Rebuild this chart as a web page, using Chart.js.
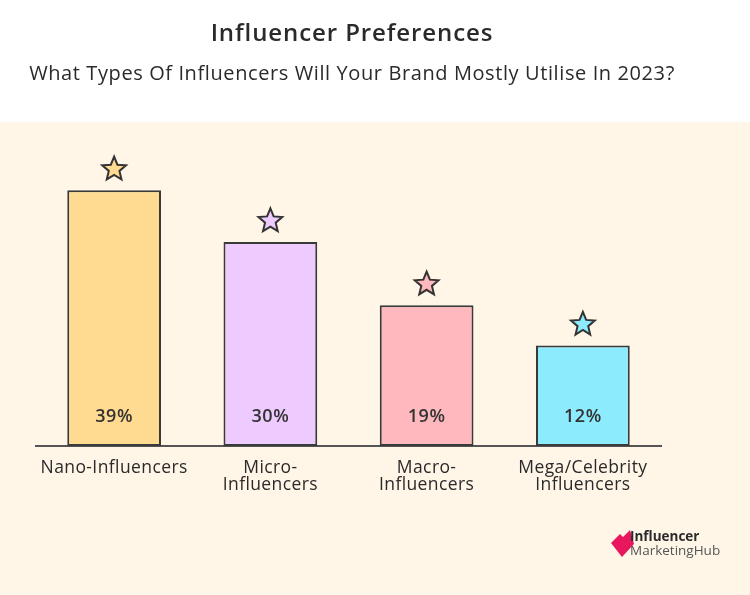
<!DOCTYPE html>
<html><head><meta charset="utf-8">
<script src="https://cdn.jsdelivr.net/npm/chart.js@4/dist/chart.umd.min.js"></script>
<style>
html,body{margin:0;padding:0;width:750px;height:595px;overflow:hidden;background:#fff;}
#wrap{position:relative;width:750px;height:595px;}
#bg{position:absolute;left:0;top:122px;width:750px;height:473px;background:#FFF6E8;}
#cv{position:absolute;left:0;top:0;}
.t{position:absolute;left:0;width:704px;text-align:center;color:#2a2a2a;white-space:nowrap;}
#title{top:15px;font:600 24px 'Open Sans', sans-serif;letter-spacing:0.9px;}
#sub{top:59px;font:400 20px 'Open Sans', sans-serif;letter-spacing:0.6px;}
#logo{position:absolute;left:611px;top:527px;width:130px;height:32px;}
#logo .a{position:absolute;left:19px;top:0px;font:700 13.5px 'Open Sans', sans-serif;color:#2a2a2a;}
#logo .b{position:absolute;left:19px;top:14px;font:400 13.5px 'Open Sans', sans-serif;color:#555;}
</style></head>
<body><div id="wrap">
<div id="bg"></div>
<canvas id="cv" width="750" height="595"></canvas>
<div class="t" id="title">Influencer Preferences</div>
<div class="t" id="sub">What Types Of Influencers Will Your Brand Mostly Utilise In 2023?</div>
<div id="logo">
<svg width="24" height="32" style="position:absolute;left:0;top:1px"><polygon points="0,15 9,6 12,9 19,2 23,16 11,29" fill="#E8175D"/></svg>
<span class="a">Influencer</span><span class="b">MarketingHub</span>
</div>
</div>
<script>
const categories = [['Nano-Influencers'], ['Micro-','Influencers'], ['Macro-','Influencers'], ['Mega/Celebrity','Influencers']];
const values = [39, 30, 19, 12];
const valueLabels = ['39%', '30%', '19%', '12%'];
const barColors = ['#FFDA91', '#EECBFE', '#FFB8BE', '#8DEBFE'];
const axisMin = -5.5;
const axisMax = 50;

const decor = {
  id: 'decor',
  beforeDraw(chart) {
    chart.ctx.letterSpacing = '0.4px';
  },
  afterDatasetsDraw(chart) {
    const ctx = chart.ctx;
    const meta = chart.getDatasetMeta(0);
    const base = meta.data[0].base;
    meta.data.forEach((bar, i) => {
      ctx.save();
      ctx.letterSpacing = '0.5px';
      ctx.font = '600 18px "Open Sans", sans-serif';
      ctx.fillStyle = '#333';
      ctx.textAlign = 'center';
      ctx.textBaseline = 'middle';
      ctx.fillText(valueLabels[i], bar.x, base - 29);
      const cx = bar.x, cy = bar.y - 21, ro = 12.5, ri = 5.6;
      ctx.beginPath();
      for (let k = 0; k < 10; k++) {
        const r = k % 2 ? ri : ro;
        const a = -Math.PI / 2 + k * Math.PI / 5;
        const px = cx + r * Math.cos(a), py = cy + r * Math.sin(a);
        k ? ctx.lineTo(px, py) : ctx.moveTo(px, py);
      }
      ctx.closePath();
      ctx.fillStyle = barColors[i];
      ctx.fill();
      ctx.lineWidth = 2;
      ctx.strokeStyle = '#333';
      ctx.stroke();
      ctx.restore();
    });
  }
};

new Chart(document.getElementById('cv'), {
  type: 'bar',
  data: {
    labels: categories,
    datasets: [{
      data: values,
      base: axisMin,
      backgroundColor: barColors,
      borderColor: '#3a3a3a',
      borderWidth: 2,
      borderSkipped: false,
      barPercentage: 0.6,
      categoryPercentage: 1
    }]
  },
  options: {
    responsive: false,
    animation: false,
    layout: { padding: { left: 36, right: 89, top: 127, bottom: 0 } },
    plugins: { legend: { display: false }, tooltip: { enabled: false } },
    scales: {
      y: { display: false, min: axisMin, max: axisMax },
      x: {
        grid: { display: false, drawTicks: false },
        border: { display: true, color: '#555', width: 2 },
        ticks: { color: '#2a2a2a', font: { family: "'Open Sans', sans-serif", size: 17.5, lineHeight: 0.97 }, padding: 14, maxRotation: 0, autoSkip: false },
        afterFit(scale) { scale.height = 149; }
      }
    }
  },
  plugins: [decor]
});
</script>
</body></html>
